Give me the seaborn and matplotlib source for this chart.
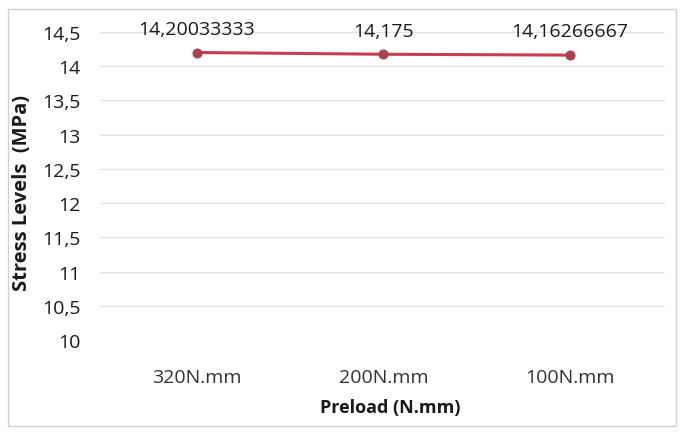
import matplotlib
matplotlib.use("Agg")
import matplotlib.pyplot as plt
import seaborn as sns
import pandas as pd
from matplotlib.patches import Rectangle

categories = ["320N.mm", "200N.mm", "100N.mm"]
values = [14.20033333, 14.175, 14.16266667]
value_labels = ["14,20033333", "14,175", "14,16266667"]
yticks = [10, 10.5, 11, 11.5, 12, 12.5, 13, 13.5, 14, 14.5]
ytick_labels = ["10", "10,5", "11", "11,5", "12", "12,5", "13", "13,5", "14", "14,5"]

sns.set_theme(style="white")
plt.rcParams['font.family'] = ['Open Sans', 'DejaVu Sans']

df = pd.DataFrame({"x": range(len(categories)), "y": values})

fig = plt.figure(figsize=(6.84, 4.35), dpi=100)
ax = fig.add_axes([100/684, 1-341/435, 565/684, (341-33)/435])

for t in yticks:
    ax.axhline(t, color="#E2E2E2", lw=0.9, zorder=0)

sns.lineplot(data=df, x="x", y="y", ax=ax, color="#C73E50", lw=2.2,
             marker="o", markersize=6.5, markerfacecolor="#A8424B",
             markeredgecolor="#A8424B")

for i, (v, lab) in enumerate(zip(values, value_labels)):
    ax.annotate(lab, (i, v), xytext=(0, 17), textcoords="offset points",
                ha="center", va="center", fontsize=14, color="#1a1a1a")

ax.set_xlim(-0.52, 2.51)
ax.set_ylim(10, 14.5)
ax.set_xticks(range(len(categories)))
ax.set_xticklabels(categories, fontsize=14, color="#333333")
ax.set_yticks(yticks)
ax.set_yticklabels(ytick_labels, fontsize=14, color="#1a1a1a")
ax.tick_params(axis="x", length=0, pad=20)
ax.tick_params(axis="y", length=0, pad=14)
for s in ax.spines.values():
    s.set_visible(False)
ax.set_xlabel("Preload (N.mm)", fontsize=13, fontweight="bold", color="#1a1a1a")
ax.set_ylabel("Stress Levels  (MPa)", fontsize=14.5, fontweight="bold", color="#1a1a1a")
ax.xaxis.set_label_coords(0.513, -(408-341)/308, transform=ax.transAxes)
ax.yaxis.set_label_coords(-(100-22)/565, 0.48, transform=ax.transAxes)
ax.xaxis.label.set_va("center")
ax.yaxis.label.set_va("center")

fig.patches.append(Rectangle((8/684, 8/435), 668/684, 417/435, transform=fig.transFigure,
                             fill=False, edgecolor="#D0D0D0", lw=1))

fig.savefig("out.png", dpi=100)
